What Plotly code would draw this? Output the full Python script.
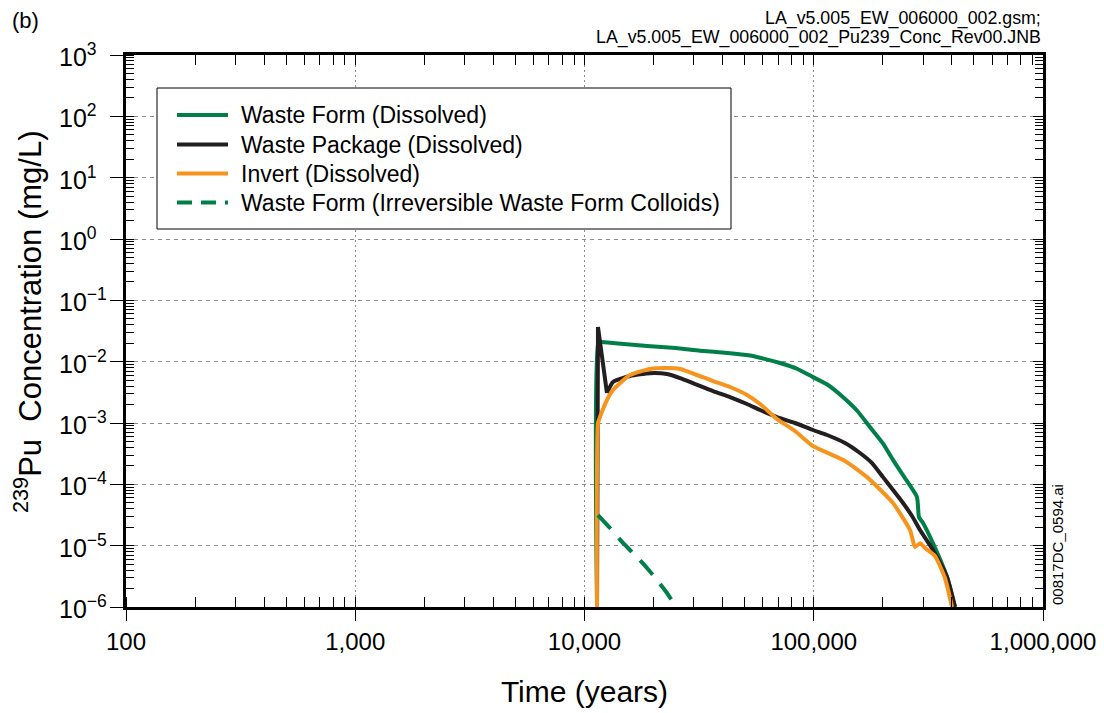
import plotly.graph_objects as go

# ---------------- data ----------------
wf_t = [11340, 11500, 11900, 14000, 18740, 25000, 31900, 42000, 52700, 58300, 71300, 85000,
        99200, 115000, 134000, 155000, 175800, 200000, 221600, 250000, 282000, 287800,
        299700, 331000, 381000, 413000]
wf_c = [1e-6, 0.0210, 0.0209, 0.0198, 0.0180, 0.0167, 0.0151, 0.0139, 0.0126, 0.0116, 0.0095,
        0.0076, 0.0056, 0.0042, 0.00265, 1.57e-3, 8.6e-4, 4.7e-4, 2.5e-4, 1.26e-4, 6.2e-5,
        2.9e-5, 2.34e-5, 1.1e-5, 3.1e-6, 1.0e-6]

wp_t = [11340, 11450, 12530, 13310, 15790, 19310, 22900, 26100, 36360, 43120, 51150, 58300,
        69150, 82830, 99240, 114300, 136900, 159100, 179600, 200500, 221700, 245100, 268300,
        290800, 331300, 381300, 413200]
wp_c = [1e-6, 0.0367, 3.08e-3, 4.66e-3, 5.83e-3, 6.50e-3, 6.29e-3, 5.41e-3, 3.32e-3, 2.65e-3,
        2.04e-3, 1.63e-3, 1.25e-3, 1.0e-3, 7.69e-4, 6.37e-4, 4.72e-4, 3.24e-4, 2.22e-4, 1.31e-4,
        8.07e-5, 4.96e-5, 3.04e-5, 1.80e-5, 8.49e-6, 3.08e-6, 1.0e-6]

inv_t = [11340, 11450, 11680, 12530, 13310, 15790, 19310, 22900, 26100, 36360, 43120, 51150,
         58300, 69150, 82830, 99240, 136900, 170800, 221700, 263000, 276500, 290800, 305800,
         338000, 373600, 401000]
inv_c = [1e-6, 1.0e-3, 1.25e-3, 2.37e-3, 3.45e-3, 6.05e-3, 7.59e-3, 7.87e-3, 7.59e-3, 4.83e-3,
         3.86e-3, 2.86e-3, 2.04e-3, 1.16e-3, 7.40e-4, 4.21e-4, 2.40e-4, 1.31e-4, 4.96e-5, 1.80e-5,
         9.5e-6, 1.10e-5, 9.16e-6, 6.78e-6, 2.97e-6, 1.0e-6]

col_t = [11450, 12920, 14580, 16610, 18740, 20710, 22900, 25060]
col_c = [3.16e-5, 1.94e-5, 1.15e-5, 7.03e-6, 4.32e-6, 2.75e-6, 1.69e-6, 1.0e-6]

x_tickvals = [100, 1000, 10000, 100000, 1000000]
x_ticktext = ["100", "1,000", "10,000", "100,000", "1,000,000"]
y_exponents = [3, 2, 1, 0, -1, -2, -3, -4, -5, -6]

names = ["Waste Form (Dissolved)", "Waste Package (Dissolved)", "Invert (Dissolved)",
         "Waste Form (Irreversible Waste Form Colloids)"]

GREEN = "#007F48"
BLACK = "#231F20"
ORANGE = "#F7941D"
FONT = "Liberation Sans, Arial, sans-serif"
COLORS = [GREEN, BLACK, ORANGE, GREEN]

# plot area in pixels
L, R, T, B = 126, 1043, 55, 607
PW, PH = R - L, B - T


def px(xp):
    return (xp - L) / PW


def py(yp):
    return (B - yp) / PH


y_tickvals = [10.0 ** e for e in y_exponents]
x_minor = [m * 10.0 ** d for d in range(2, 6) for m in range(1, 10)] + [1e6]
y_minor = [m * 10.0 ** d for d in range(-6, 3) for m in range(1, 10)] + [1e3]


def line(color, dash="solid", shape="spline"):
    return dict(color=color, width=4, dash=dash, shape=shape, smoothing=0.5)


fig = go.Figure()
fig.add_trace(go.Scatter(x=wf_t, y=wf_c, mode="lines", name=names[0], showlegend=False,
                         line=line(GREEN)))
# waste package: the sharp release spike is drawn straight, the rest smoothed
fig.add_trace(go.Scatter(x=wp_t[:3], y=wp_c[:3], mode="lines", name=names[1],
                         showlegend=False, line=line(BLACK, shape="linear")))
fig.add_trace(go.Scatter(x=wp_t[2:], y=wp_c[2:], mode="lines", name=names[1],
                         showlegend=False, line=line(BLACK)))
fig.add_trace(go.Scatter(x=inv_t, y=inv_c, mode="lines", name=names[2], showlegend=False,
                         line=line(ORANGE)))
fig.add_trace(go.Scatter(x=col_t, y=col_c, mode="lines", name=names[3], showlegend=False,
                         line=line(GREEN, dash="19px,12px")))
# dummy trace for the mirrored tick axes
fig.add_trace(go.Scatter(x=[None], y=[None], xaxis="x2", yaxis="y2", showlegend=False,
                         hoverinfo="skip"))

common_x = dict(type="log", range=[2, 6], automargin=False)
common_y = dict(type="log", range=[-6, 3], automargin=False)

annotations = [
    dict(text="(b)", xref="paper", yref="paper", x=px(10), y=py(21),
         xanchor="left", yanchor="middle", showarrow=False, font=dict(size=22)),
    dict(text="LA_v5.005_EW_006000_002.gsm;", xref="paper", yref="paper", x=1.0,
         y=py(18), xanchor="right", yanchor="middle", showarrow=False, font=dict(size=17.8)),
    dict(text="LA_v5.005_EW_006000_002_Pu239_Conc_Rev00.JNB", xref="paper", yref="paper",
         x=1.0, y=py(38), xanchor="right", yanchor="middle", showarrow=False,
         font=dict(size=17.8)),
    dict(text="00817DC_0594.ai", xref="paper", yref="paper", x=px(1057),
         y=py(545), xanchor="center", yanchor="middle", textangle=-90,
         showarrow=False, font=dict(size=15)),
    dict(text="<sup>239</sup>Pu  Concentration (mg/L)", xref="paper", yref="paper",
         x=px(28), y=py(322), xanchor="center", yanchor="middle", textangle=-90,
         showarrow=False, font=dict(size=31)),
]
# y tick labels (left-aligned as in the reference)
for e in y_exponents:
    annotations.append(dict(text="10<sup>%s</sup>" % str(e).replace("-", "\u2212"),
                            xref="paper", yref="y", x=px(57), y=e, xanchor="left",
                            yanchor="middle", showarrow=False, font=dict(size=25)))

# legend (drawn inside a white framed box)
legend_rows = [115, 144.5, 173.5, 202.5]
shapes = [dict(type="rect", xref="paper", yref="paper", x0=px(157), x1=px(731),
               y0=py(229), y1=py(88), line=dict(color="black", width=1),
               fillcolor="white", layer="above")]
for i, ry in enumerate(legend_rows):
    shapes.append(dict(type="line", xref="paper", yref="paper", x0=px(177), x1=px(228),
                       y0=py(ry), y1=py(ry), layer="above",
                       line=dict(color=COLORS[i], width=4,
                                 dash="15px,9px" if i == 3 else "solid")))
    annotations.append(dict(text=names[i], xref="paper", yref="paper", x=px(239),
                            y=py(ry), xanchor="left", yanchor="middle", showarrow=False,
                            font=dict(size=23)))

fig.update_layout(
    width=1104, height=713,
    margin=dict(l=L, r=1104 - R, t=T, b=713 - B, autoexpand=False),
    paper_bgcolor="white", plot_bgcolor="white",
    font=dict(family=FONT, color="black"),
    showlegend=False,
    xaxis=dict(**common_x, tickmode="array", tickvals=x_tickvals, ticktext=x_ticktext,
               ticks="outside", ticklen=11, tickwidth=1.2, tickcolor="black",
               showline=True, linewidth=2.5, linecolor="black", mirror=True,
               showgrid=True, gridcolor="#8c8c8c", gridwidth=1, griddash="2px,3px",
               tickfont=dict(size=24), zeroline=False,
               minor=dict(tickmode="array", tickvals=x_minor, ticks="inside", ticklen=10,
                          tickwidth=1.2, tickcolor="black", showgrid=False),
               title=dict(text="Time (years)", font=dict(size=30), standoff=28)),
    yaxis=dict(**common_y, tickmode="array", tickvals=y_tickvals,
               ticks="outside", ticklen=13, tickwidth=1.2, tickcolor="black",
               showline=True, linewidth=2.5, linecolor="black", mirror=True,
               showgrid=True, gridcolor="#8c8c8c", gridwidth=1, griddash="4px,4px",
               showticklabels=False, zeroline=False,
               minor=dict(tickmode="array", tickvals=y_minor, ticks="inside", ticklen=8,
                          tickwidth=1.2, tickcolor="black", showgrid=False)),
    xaxis2=dict(**common_x, overlaying="x", side="top", anchor="y", tickmode="array",
                tickvals=x_tickvals, ticks="inside", ticklen=10, tickwidth=1.2,
                tickcolor="black", showticklabels=False, showgrid=False, showline=False,
                zeroline=False,
                minor=dict(tickmode="array", tickvals=x_minor, ticks="inside", ticklen=10,
                           tickwidth=1.2, tickcolor="black", showgrid=False)),
    yaxis2=dict(**common_y, overlaying="y", side="right", anchor="x", tickmode="array",
                tickvals=y_tickvals, ticks="inside", ticklen=10, tickwidth=1.2,
                tickcolor="black", showticklabels=False, showgrid=False, showline=False,
                zeroline=False,
                minor=dict(tickmode="array", tickvals=y_minor, ticks="inside", ticklen=8,
                           tickwidth=1.2, tickcolor="black", showgrid=False)),
    shapes=shapes,
    annotations=annotations,
)

fig.write_html("out.html")
